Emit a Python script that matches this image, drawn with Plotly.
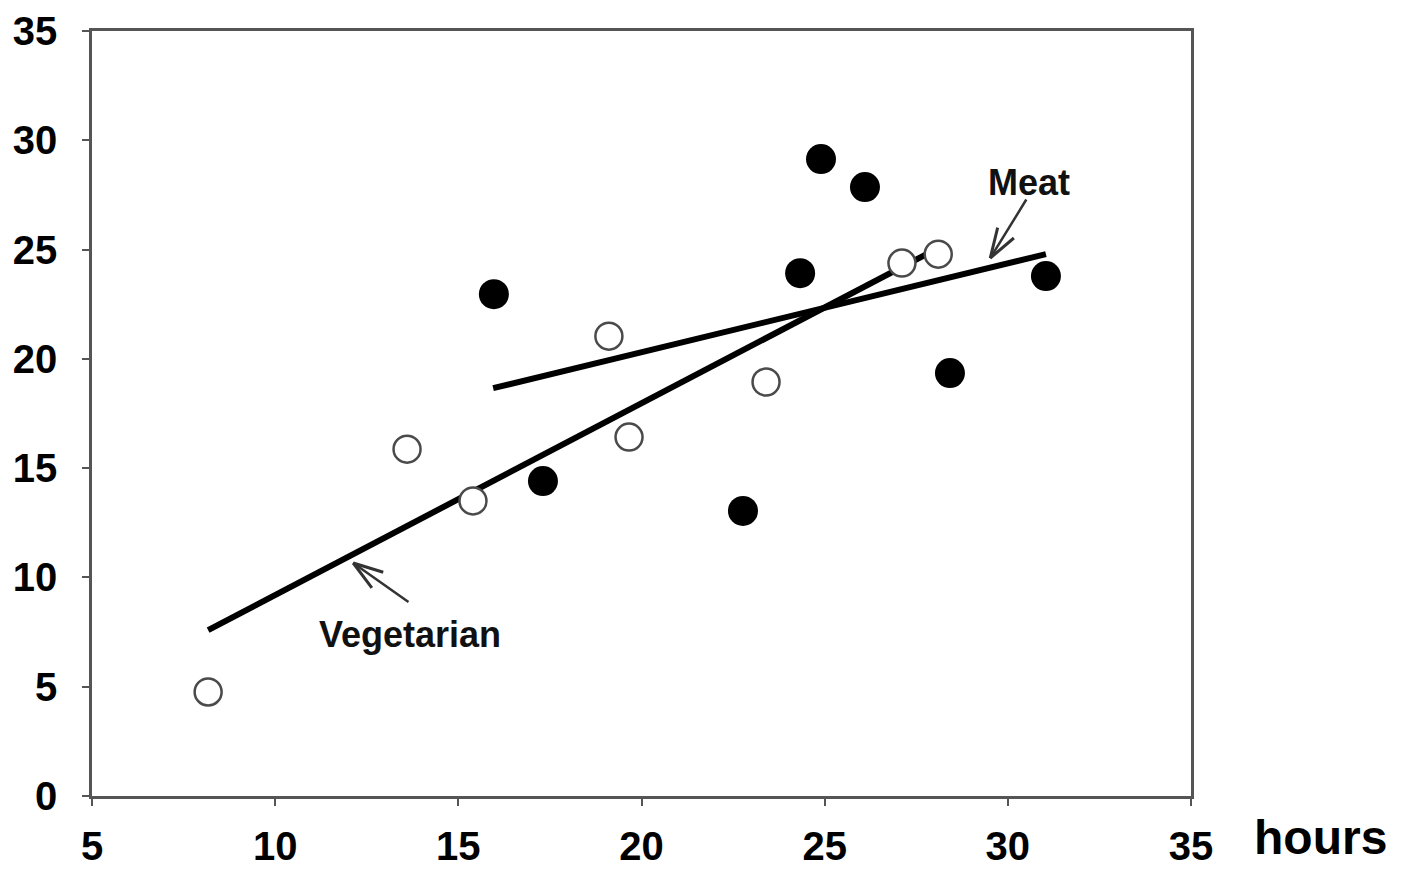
import math
import plotly.graph_objects as go

# Vegetarian diet (open circles)
veg_hours = [8.17, 13.60, 15.40, 19.11, 19.66, 23.40, 27.11, 28.10]
veg_values = [4.76, 15.87, 13.50, 21.04, 16.42, 18.94, 24.38, 24.79]

# Meat diet (filled circles)
meat_hours = [15.97, 17.31, 22.77, 24.33, 24.90, 26.10, 28.42, 31.04]
meat_values = [22.96, 14.41, 13.04, 23.92, 29.14, 27.86, 19.35, 23.79]

# Fitted trend lines (end points)
veg_fit_hours = [8.17, 28.10]
veg_fit_values = [7.59, 25.07]
meat_fit_hours = [15.95, 31.04]
meat_fit_values = [18.66, 24.79]

x_ticks = [5, 10, 15, 20, 25, 30, 35]
y_ticks = [0, 5, 10, 15, 20, 25, 30, 35]

# Label arrows: (label, label position, arrow tail, arrow tip) in data units
labels = [
    ("Vegetarian", (13.68, 7.37), (13.68, 8.83), (12.13, 10.66)),
    ("Meat", (30.58, 28.09), (30.53, 27.36), (29.52, 24.61)),
]

W, H = 1402, 869
M_L, M_R, M_T, M_B = 92, 211, 31, 73
X_RANGE = [5, 35]
Y_RANGE = [0, 35]
px_per_x = (W - M_L - M_R) / (X_RANGE[1] - X_RANGE[0])
px_per_y = (H - M_T - M_B) / (Y_RANGE[1] - Y_RANGE[0])

FONT = "Liberation Sans, Arial, sans-serif"
AXIS_COLOR = "#555555"
ARROW_COLOR = "#333333"

fig = go.Figure()

fig.add_trace(go.Scatter(
    x=veg_fit_hours, y=veg_fit_values, mode="lines",
    line=dict(color="black", width=6), showlegend=False, hoverinfo="skip"))
fig.add_trace(go.Scatter(
    x=meat_fit_hours, y=meat_fit_values, mode="lines",
    line=dict(color="black", width=6), showlegend=False, hoverinfo="skip"))

fig.add_trace(go.Scatter(
    x=meat_hours, y=meat_values, mode="markers", name="Meat",
    marker=dict(symbol="circle", size=30, color="black",
                line=dict(color="black", width=0)),
    showlegend=False))
fig.add_trace(go.Scatter(
    x=veg_hours, y=veg_values, mode="markers", name="Vegetarian",
    marker=dict(symbol="circle", size=27, color="white",
                line=dict(color="#4a4a4a", width=2.5)),
    showlegend=False))

annotations = []
barb_len = 33
barb_angle = math.radians(18)
for text, (lx, ly), (sx, sy), (tx, ty) in labels:
    annotations.append(dict(
        x=lx, y=ly, xref="x", yref="y", text=text, showarrow=False,
        font=dict(family=FONT, size=36, color="#111111", weight="bold"),
        xanchor="center", yanchor="middle"))
    # shaft
    annotations.append(dict(
        x=tx, y=ty, xref="x", yref="y", ax=sx, ay=sy, axref="x", ayref="y",
        text="", showarrow=True, arrowhead=0, arrowwidth=2.5,
        arrowcolor=ARROW_COLOR, font=dict(size=1)))
    # open arrowhead barbs
    dxp = (sx - tx) * px_per_x
    dyp = -(sy - ty) * px_per_y
    a = math.atan2(dyp, dxp)
    for sgn in (-1, 1):
        b = a + sgn * barb_angle
        annotations.append(dict(
            x=tx, y=ty, xref="x", yref="y",
            ax=barb_len * math.cos(b), ay=barb_len * math.sin(b),
            text="", showarrow=True, arrowhead=0, arrowwidth=3,
            arrowcolor=ARROW_COLOR, font=dict(size=1)))

annotations.append(dict(
    x=1.118, y=-0.054, xref="paper", yref="paper", text="hours",
    showarrow=False, xanchor="center", yanchor="middle",
    font=dict(family=FONT, size=48, color="black", weight="bold")))

axis_common = dict(
    showgrid=False, zeroline=False, showline=True, mirror=True,
    linecolor=AXIS_COLOR, linewidth=2.5, ticks="outside", ticklen=7,
    tickwidth=2, tickcolor=AXIS_COLOR, automargin=False,
    tickfont=dict(family=FONT, size=40, color="black", weight="bold"),
)

fig.update_layout(
    width=W, height=H,
    margin=dict(l=M_L, r=M_R, t=M_T, b=M_B),
    paper_bgcolor="white", plot_bgcolor="white",
    xaxis=dict(range=X_RANGE, tickvals=x_ticks, ticktext=[str(v) for v in x_ticks],
               ticklabelstandoff=6, **axis_common),
    yaxis=dict(range=Y_RANGE, tickvals=y_ticks, ticktext=[str(v) for v in y_ticks],
               ticklabelstandoff=17, **axis_common),
    annotations=annotations,
    showlegend=False,
)

fig.write_html("out.html")
